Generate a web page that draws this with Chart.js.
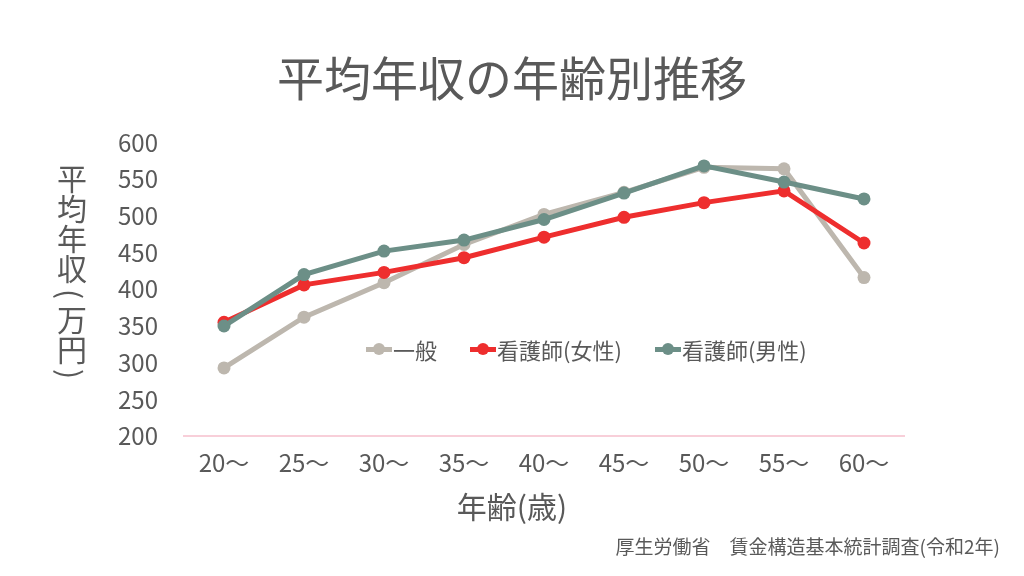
<!DOCTYPE html>
<html lang="ja">
<head>
<meta charset="utf-8">
<title>平均年収の年齢別推移</title>
<script src="https://cdn.jsdelivr.net/npm/chart.js@4.4.1/dist/chart.umd.min.js"></script>
<style>
    body { margin: 0; background: #fff; }
    #wrap { position: relative; width: 1024px; height: 576px; font-family: 'Noto Sans CJK JP', 'Noto Sans', sans-serif; color: #595959; }
    #yTitle { position: absolute; left: 57px; top: 164px; font-size: 30px; line-height: 30px; writing-mode: vertical-rl; text-orientation: mixed; }
    #yTitle .p { padding: 5px 0; }
    #xTitle { position: absolute; left: 0; top: 487px; width: 1024px; text-align: center; font-size: 30px; line-height: 36px; }
    #legend { position: absolute; left: 366px; top: 336px; display: flex; font-size: 22px; line-height: 26px; }
    .item { display: flex; align-items: center; margin-right: 33px; }
    .mark { position: relative; width: 26px; height: 5px; margin-right: 1px; }
    .mark i { position: absolute; left: 7px; top: -4px; width: 12px; height: 12px; border-radius: 50%; }
</style>
</head>
<body>
<div id="wrap">
    <canvas id="incomeChart" width="1024" height="576"></canvas>
    <div id="yTitle">平均年収<span class="p">(</span>万円<span class="p">)</span></div>
    <div id="xTitle">年齢(歳)</div>
    <div id="legend"></div>
</div>
<script>
// Age groups and yearly income (10,000 yen)
const ages = ['20～', '25～', '30～', '35～', '40～', '45～', '50～', '55～', '60～'];
const general = [293, 362, 409, 461, 502, 532, 566, 564, 416];
const nurseFemale = [355, 406, 423, 443, 471, 498, 518, 534, 463];
const nurseMale = [350, 420, 452, 467, 495, 531, 568, 546, 523];

const seriesNames = ['一般', '看護師(女性)', '看護師(男性)'];
const seriesColors = ['#bdb7ae', '#ee2e2e', '#6c8f87'];

const fontFamily = "'Noto Sans CJK JP', 'Noto Sans', sans-serif";
const textColor = '#595959';

function makeDataset(i, data, order) {
    return {
        label: seriesNames[i],
        data,
        borderColor: seriesColors[i],
        backgroundColor: seriesColors[i],
        borderWidth: 5,
        pointRadius: 6.5,
        pointHoverRadius: 6.5,
        pointBorderWidth: 0,
        tension: 0,
        order
    };
}

const chart = new Chart(document.getElementById('incomeChart'), {
    type: 'line',
    data: {
        labels: ages,
        datasets: [
            makeDataset(0, general, 2),
            makeDataset(1, nurseFemale, 1),
            makeDataset(2, nurseMale, 0)
        ]
    },
    options: {
        responsive: false,
        animation: false,
        devicePixelRatio: 1,
        layout: {
            padding: { left: 24, right: 24, top: 0, bottom: 18 }
        },
        plugins: {
            legend: { display: false },
            tooltip: { enabled: false },
            title: {
                display: true,
                text: '平均年収の年齢別推移',
                color: textColor,
                font: { family: fontFamily, size: 47, weight: 'normal', lineHeight: 1.2 },
                padding: { top: 50, bottom: 36 }
            },
            subtitle: {
                display: true,
                position: 'bottom',
                align: 'end',
                text: '厚生労働省　賃金構造基本統計調査(令和2年)',
                color: textColor,
                font: { family: fontFamily, size: 19, weight: 'normal', lineHeight: 1.2 },
                padding: 0
            }
        },
        scales: {
            x: {
                offset: true,
                grid: { display: false, drawTicks: false },
                border: { display: true, color: '#f8cfd9', width: 2 },
                ticks: {
                    color: textColor,
                    padding: 12,
                    font: { family: fontFamily, size: 24 }
                },
                afterFit: s => { s.height = 99; }
            },
            y: {
                min: 200,
                max: 600,
                grid: { display: false, drawTicks: false },
                border: { display: false },
                ticks: {
                    stepSize: 50,
                    color: textColor,
                    padding: 26,
                    font: { family: fontFamily, size: 24 }
                },
                afterFit: s => { s.width = 160; }
            },
            // empty right axis, keeps the plot clear of the right margin
            yRight: {
                position: 'right',
                min: 0,
                max: 1,
                grid: { display: false, drawTicks: false },
                border: { display: false },
                ticks: { display: false },
                afterFit: s => { s.width = 96; }
            }
        }
    }
});

// Legend inside the plot, built from the datasets
const legendBox = document.getElementById('legend');
chart.data.datasets.forEach(ds => {
    const item = document.createElement('div');
    item.className = 'item';
    item.innerHTML = `<span class="mark" style="background:${ds.borderColor}"><i style="background:${ds.borderColor}"></i></span>${ds.label}`;
    legendBox.appendChild(item);
});
</script>
</body>
</html>
